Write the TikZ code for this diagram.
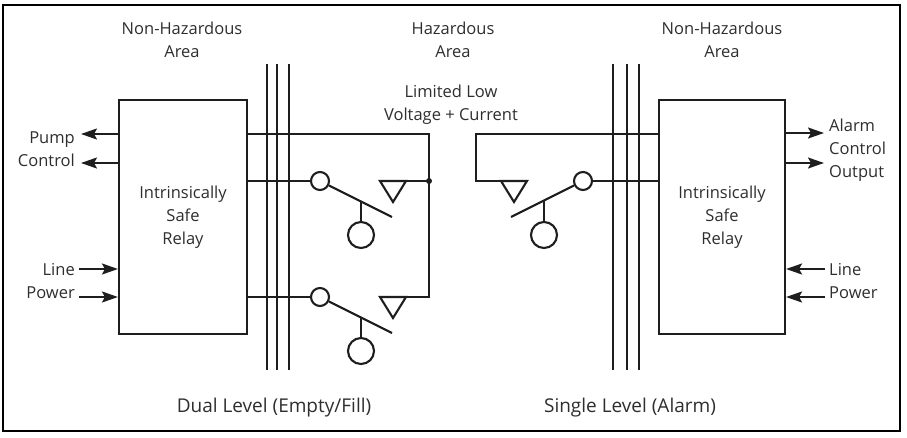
\documentclass[tikz,border=0pt]{standalone}
\usepackage{fontspec}
\setmainfont{Open Sans}
\usetikzlibrary{arrows.meta}
\definecolor{ink}{HTML}{1E1E1E}
\definecolor{txt}{HTML}{2E2E2E}
\begin{document}
\begin{tikzpicture}[x=1pt,y=-1pt,
  wire/.style={draw=ink,line width=2.1pt},
  lbl/.style={text=txt,font=\fontsize{16.5}{23}\selectfont,align=center,inner sep=0pt},
  biglbl/.style={text=txt,font=\fontsize{19}{22}\selectfont,inner sep=0pt},
  relay/.style={rectangle,draw=ink,line width=2.1pt,minimum width=128pt,minimum height=234pt,inner sep=0pt,lbl},
  swc/.style={circle,draw=ink,line width=2.1pt,minimum size=18pt,inner sep=0pt},
  flt/.style={circle,draw=ink,line width=2.1pt,minimum size=26pt,inner sep=0pt},
  arr/.style={wire,-{Stealth[length=16pt,width=11pt,inset=3pt]}},
  tri/.style={wire,line join=miter}
]
\useasboundingbox (0,0) rectangle (907,437);
\draw[line width=2.8pt,black] (3,5) rectangle (900,431);

% area labels
\node[lbl] (nhl) at (182,40) {Non-Hazardous\\Area};
\node[lbl] (haz) at (453,40) {Hazardous\\Area};
\node[lbl] (nhr) at (722,40) {Non-Hazardous\\Area};
\node[lbl] (lim) at (451,104.5) {Limited Low\\Voltage + Current};

% relays
\node[relay] (L) at (183,217) {Intrinsically\\Safe\\Relay};
\node[relay,minimum width=126pt] (R) at (722,217) {Intrinsically\\Safe\\Relay};

% barriers
\foreach \x in {267,277,289,613,627,639}
  \draw[wire] (\x,64) -- (\x,370);

% ---------- left side: dual level ----------
\coordinate (jt) at (429,134);
\coordinate (jd) at (429,181);
\coordinate (jb) at (429,297);
\coordinate (t1a) at (380,181);
\coordinate (t2a) at (380,297);
\node[swc] (s1c) at (320,181) {};
\node[swc] (s2c) at (320,297) {};
\coordinate (s1e) at (392,217);
\coordinate (s2e) at (392,333);
\coordinate (s1k) at (361,201.5);
\coordinate (s2k) at (361,317.5);
\node[flt] (f1) at (361,235) {};
\node[flt] (f2) at (361,351) {};

\draw[wire] (L.east |- jt) -- (jt) -- (jb) -- (t2a);
\draw[wire] (t1a) -- (jd);
\fill[ink] (jd) circle (3pt);
\draw[wire] (L.east |- s1c) -- (s1c);
\draw[wire] (L.east |- s2c) -- (s2c);
\draw[wire] (s1c) -- (s1e);
\draw[wire] (s2c) -- (s2e);
\draw[wire] (s1k) -- (f1);
\draw[wire] (s2k) -- (f2);
\draw[tri] (t1a) -- ++(26,0) -- ++(-13,21) -- cycle;
\draw[tri] (t2a) -- ++(26,0) -- ++(-13,21) -- cycle;

% ---------- right side: single level ----------
\coordinate (rt) at (476,134);
\coordinate (rd) at (476,181);
\coordinate (t3b) at (527,181);
\node[swc] (s3c) at (583,181) {};
\coordinate (s3e) at (511,217);
\coordinate (s3k) at (544,200.5);
\node[flt] (f3) at (544,235) {};
\draw[wire] (R.west |- rt) -- (rt) -- (rd) -- (t3b);
\draw[tri] (t3b) -- ++(-26,0) -- ++(13,21) -- cycle;
\draw[wire] (s3c) -- (R.west |- s3c);
\draw[wire] (s3c) -- (s3e);
\draw[wire] (s3k) -- (f3);

% ---------- left I/O ----------
\coordinate (pc1) at (81,134);
\coordinate (pc2) at (81,163);
\node[lbl,anchor=east,align=right] (pump) at (75,149) {Pump\\Control};
\draw[arr] (L.west |- pc1) -- (pc1);
\draw[arr] (L.west |- pc2) -- (pc2);
\coordinate (lp1) at (79,269);
\coordinate (lp2) at (79,297);
\node[lbl,anchor=east,align=right] (lpl) at (75,281.5) {Line\\Power};
\draw[arr] (lp1) -- (L.west |- lp1);
\draw[arr] (lp2) -- (L.west |- lp2);

% ---------- right I/O ----------
\coordinate (ac1) at (824,133);
\coordinate (ac2) at (824,163);
\node[lbl,anchor=west,align=left] (alarm) at (829,150) {Alarm\\Control\\Output};
\draw[arr] (R.east |- ac1) -- (ac1);
\draw[arr] (R.east |- ac2) -- (ac2);
\coordinate (rp1) at (825,269);
\coordinate (rp2) at (825,297);
\node[lbl,anchor=west,align=left] (rpl) at (829,281.5) {Line\\Power};
\draw[arr] (rp1) -- (R.east |- rp1);
\draw[arr] (rp2) -- (R.east |- rp2);

% captions
\node[biglbl] (dual) at (274,408) {Dual Level (Empty/Fill)};
\node[biglbl] (single) at (630,408) {Single Level (Alarm)};
\end{tikzpicture}
\end{document}
